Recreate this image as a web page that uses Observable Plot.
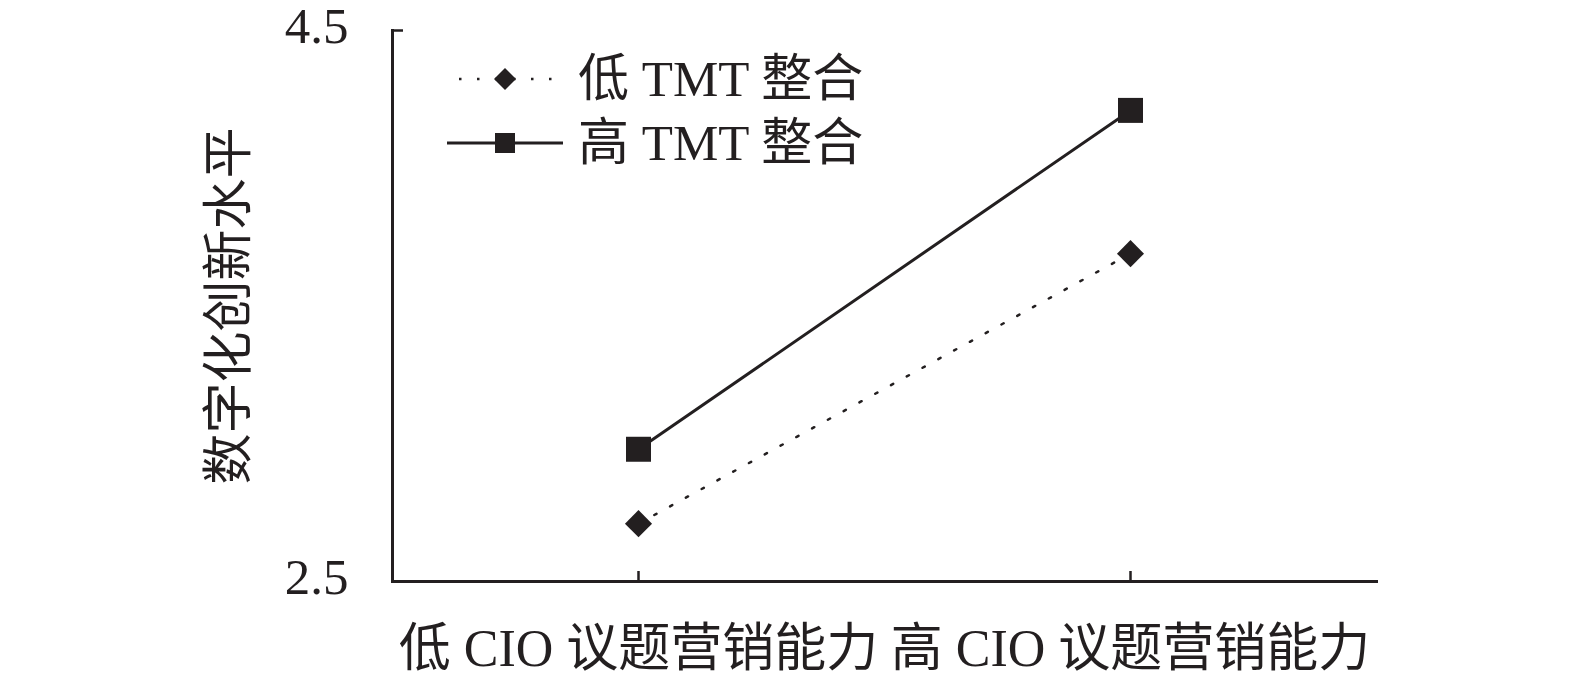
<!DOCTYPE html>
<html>
<head>
<meta charset="utf-8">
<script src="https://cdn.jsdelivr.net/npm/d3@7"></script>
<script src="https://cdn.jsdelivr.net/npm/@observablehq/plot@0.6"></script>
<style>
  html, body { margin: 0; padding: 0; background: #fff; }
  #wrap { position: relative; width: 1575px; height: 683px; }
  #legend { position: absolute; left: 0; top: 0; }
</style>
</head>
<body>
<div id="wrap"></div>
<script>
const categories = ["低 CIO 议题营销能力", "高 CIO 议题营销能力"];
const seriesNames = ["低 TMT 整合", "高 TMT 整合"];
const lowTMT = [2.71, 3.69];
const highTMT = [2.98, 4.21];
const yTicks = [2.5, 4.5];
const yLabel = "数字化创新水平";

const FONT = "'Liberation Serif', 'Times New Roman', 'Noto Sans CJK SC', serif";
const INK = "#231f20";

const data = [
  ...categories.map((c, i) => ({cat: c, v: lowTMT[i], s: seriesNames[0]})),
  ...categories.map((c, i) => ({cat: c, v: highTMT[i], s: seriesNames[1]}))
];
const low = data.filter(d => d.s === seriesNames[0]);
const high = data.filter(d => d.s === seriesNames[1]);

const chart = Plot.plot({
  width: 1575,
  height: 683,
  marginLeft: 392,
  marginRight: 199,
  marginTop: 30,
  marginBottom: 102,
  style: {fontFamily: FONT, color: INK, background: "white", overflow: "visible"},
  x: {type: "point", domain: categories, padding: 0.5},
  y: {domain: [2.5, 4.5]},
  marks: [
    Plot.frame({anchor: "left", stroke: INK, strokeWidth: 3}),
    Plot.frame({anchor: "bottom", stroke: INK, strokeWidth: 3}),
    Plot.axisY({ticks: [yTicks[1]], tickSize: -11, tickFormat: () => "", strokeWidth: 2.5, stroke: INK, label: null}),
    Plot.axisY({ticks: yTicks, tickSize: 0, tickPadding: 44, fontSize: 51, dy: -4, fill: INK, label: null, tickFormat: d => d.toFixed(1)}),
    Plot.axisX({tickSize: -10, tickFormat: () => "", strokeWidth: 2.5, stroke: INK, label: null}),
    Plot.axisX({tickSize: 0, tickPadding: 48, fontSize: 52, fill: INK, label: null, lineAnchor: "top"}),
    Plot.text([yLabel], {frameAnchor: "left", textAnchor: "middle", dx: -163, rotate: -90, fontSize: 51, fill: INK, fontFamily: FONT}),
    Plot.line(low, {x: "cat", y: "v", stroke: INK, strokeWidth: 2.5, strokeDasharray: "2.5 15.5"}),
    Plot.line(high, {x: "cat", y: "v", stroke: INK, strokeWidth: 3}),
    Plot.dot(low, {x: "cat", y: "v", symbol: "diamond2", r: 12.2, fill: INK, stroke: "none"}),
    Plot.dot(high, {x: "cat", y: "v", symbol: "square", r: 14.1, fill: INK, stroke: "none"})
  ]
});

const wrap = document.getElementById("wrap");
wrap.appendChild(chart);

// Legend (inside plot area, top-left)
const ns = "http://www.w3.org/2000/svg";
const leg = document.createElementNS(ns, "svg");
leg.setAttribute("id", "legend");
leg.setAttribute("width", 1575);
leg.setAttribute("height", 683);
leg.style.fontFamily = FONT;
const rows = [
  {name: seriesNames[0], y: 79, dash: "2.5 15.5", sw: 2.5, sym: "diamond"},
  {name: seriesNames[1], y: 143, dash: null, sw: 3, sym: "square"}
];
rows.forEach(r => {
  const line = document.createElementNS(ns, "line");
  line.setAttribute("x1", 447); line.setAttribute("x2", 563);
  line.setAttribute("y1", r.y); line.setAttribute("y2", r.y);
  line.setAttribute("stroke", INK); line.setAttribute("stroke-width", r.sw);
  if (r.dash) { line.setAttribute("stroke-dasharray", r.dash); line.setAttribute("stroke-dashoffset", 6); }
  leg.appendChild(line);
  const sym = document.createElementNS(ns, "path");
  const cx = 505, cy = r.y;
  if (r.sym === "diamond") {
    const h = 11;
    sym.setAttribute("d", `M${cx},${cy - h}L${cx + h},${cy}L${cx},${cy + h}L${cx - h},${cy}Z`);
  } else {
    const h = 10;
    sym.setAttribute("d", `M${cx - h},${cy - h}H${cx + h}V${cy + h}H${cx - h}Z`);
  }
  sym.setAttribute("fill", INK);
  leg.appendChild(sym);
  const t = document.createElementNS(ns, "text");
  t.setAttribute("x", 578); t.setAttribute("y", r.y);
  t.setAttribute("dominant-baseline", "central");
  t.setAttribute("font-size", 51);
  t.setAttribute("fill", INK);
  t.textContent = r.name;
  leg.appendChild(t);
});
wrap.appendChild(leg);
</script>
</body>
</html>
